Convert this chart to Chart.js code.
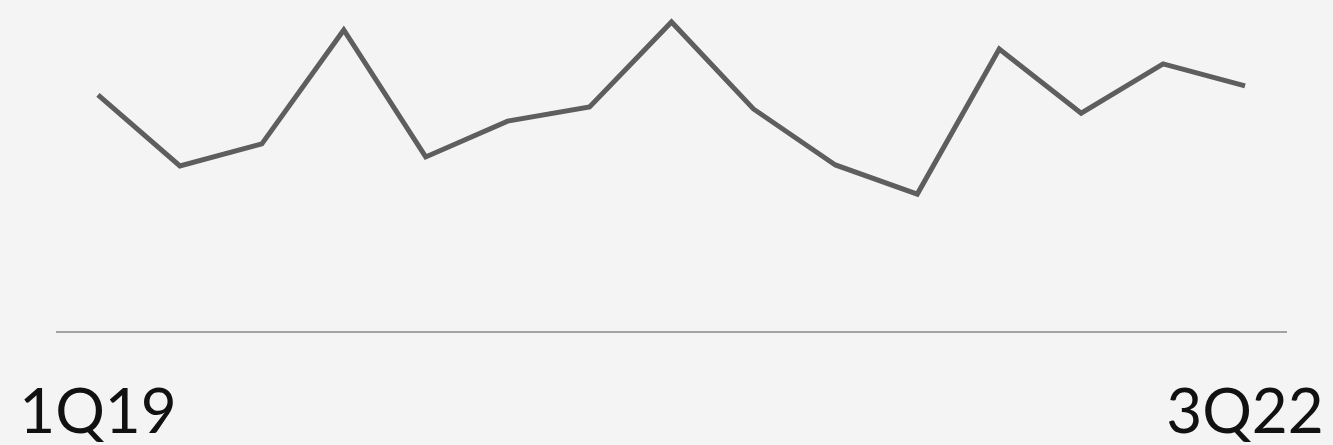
<!DOCTYPE html>
<html>
<head>
<meta charset="utf-8">
<script src="https://cdn.jsdelivr.net/npm/chart.js@4"></script>
<style>
  html, body { margin: 0; padding: 0; background: #f4f4f4; }
  #wrap { width: 1333px; height: 445px; }
</style>
</head>
<body>
<div id="wrap"><canvas id="grafica"></canvas></div>
<script>
const $grafica = document.querySelector("#grafica");
// Trimestres 1Q19 .. 3Q22
const trimestres = ["1Q19", "2Q19", "3Q19", "4Q19", "1Q20", "2Q20", "3Q20", "4Q20",
                    "1Q21", "2Q21", "3Q21", "4Q21", "1Q22", "2Q22", "3Q22"];
// Valores (escala 0-100)
const valores = [74.1, 51.9, 58.8, 94.4, 54.7, 65.9, 70.3, 96.9,
                 69.7, 52.2, 43.1, 88.4, 68.4, 83.8, 76.9];
// Sólo se muestran la primera y la última etiqueta
const etiquetasVisibles = ["1Q19", "3Q22"];

new Chart($grafica, {
    type: 'line',
    data: {
        labels: trimestres,
        datasets: [{
            data: valores,
            borderColor: '#5e5e5e',
            borderWidth: 5,
            pointRadius: 0,
            tension: 0,
            fill: false,
        }]
    },
    options: {
        responsive: true,
        maintainAspectRatio: false,
        animation: false,
        layout: { padding: { left: 57, right: 47, top: 12, bottom: 0 } },
        plugins: { legend: { display: false }, tooltip: { enabled: false } },
        scales: {
            x: {
                offset: true,
                // las marcas no se ven, sólo sirven para bajar las etiquetas
                grid: { display: false, drawTicks: true, tickLength: 44 },
                border: { display: true, color: '#a3a3a3', width: 2 },
                ticks: {
                    autoSkip: false,
                    maxRotation: 0,
                    padding: 0,
                    color: '#111',
                    font: { family: 'Lato', size: 62 },
                    callback: function (v, i) {
                        const t = this.getLabelForValue(v);
                        return etiquetasVisibles.includes(t) ? t : '';
                    }
                },
                afterFit: function (scale) { scale.height = 113; }
            },
            y: { display: false, min: 0, max: 100 }
        }
    }
});
</script>
</body>
</html>
